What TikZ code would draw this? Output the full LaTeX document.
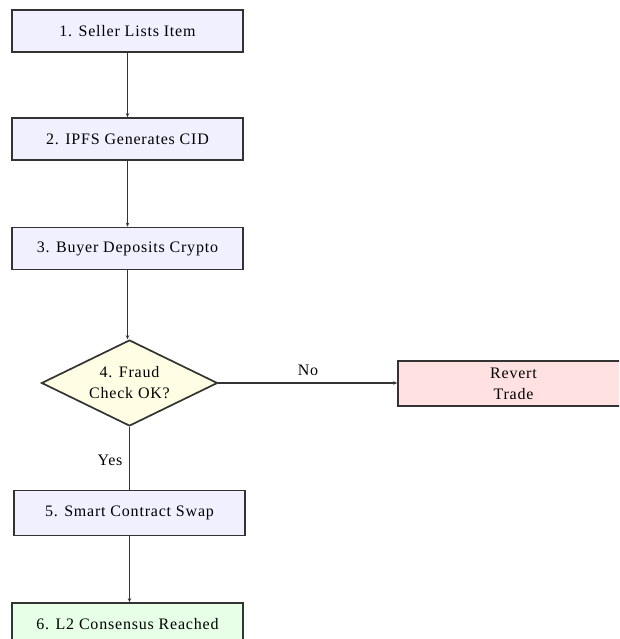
\documentclass[tikz,border=0pt]{standalone}
\usepackage{fontspec}
\setmainfont{Liberation Serif}[LetterSpace=5]
\usetikzlibrary{shapes.geometric,arrows.meta}
\definecolor{boxblue}{HTML}{F0F0FF}
\definecolor{boxyellow}{HTML}{FFFDE3}
\definecolor{boxred}{HTML}{FFE1E1}
\definecolor{boxgreen}{HTML}{E6FFE6}
\definecolor{linegray}{HTML}{333333}
\begin{document}
\begin{tikzpicture}[x=1pt,y=-1pt,
	stepbox/.style={rectangle,draw=linegray,line width=1.7pt,minimum width=231pt,minimum height=42pt,inner sep=0pt,align=center,font=\fontsize{16}{21}\selectfont},
	decision/.style={diamond,draw=linegray,line width=1.7pt,fill=boxyellow,minimum width=176pt,minimum height=86pt,aspect=2,inner sep=0pt,align=center,font=\fontsize{16}{21}\selectfont},
	flow/.style={draw=linegray,line width=1.7pt,-{Stealth[length=4pt,width=3.5pt]}},
	lbl/.style={font=\fontsize{16}{21}\selectfont}]
		\useasboundingbox (0,0) rectangle (619,639);
		\clip (0,0) rectangle (619,639);
		\fill[white] (0,0) rectangle (619,639);
		%Ablauf links
		\node at (127.5,31) [stepbox,fill=boxblue] (list) {1. Seller Lists Item};
		\node at (127.5,139) [stepbox,fill=boxblue] (cid) {2. IPFS Generates CID};
		\node at (127.5,248.5) [stepbox,fill=boxblue] (deposit) {3. Buyer Deposits Crypto};
		\node at (129.5,383) [decision] (fraud) {4. Fraud\\Check OK?};
		\node at (129.5,513) [stepbox,fill=boxblue,minimum height=45pt] (swap) {5. Smart Contract Swap};
		\node at (127.5,624) [stepbox,fill=boxgreen] (consensus) {6. L2 Consensus Reached};
		%Abbruch rechts
		\node at (513.5,383.5) [stepbox,fill=boxred,minimum height=45pt] (revert) {Revert\\Trade};
		%Verbindungen
		\draw[flow] (list) -- (cid);
		\draw[flow] (cid) -- (deposit);
		\draw[flow] (deposit.south) -- (deposit.south |- fraud.north);
		\draw[draw=linegray,line width=1.7pt] (fraud.south) -- (swap.north);
		\draw[flow] (swap.south) -- (swap.south |- consensus.north);
		\draw[flow] (fraud.east) -- (fraud.east -| revert.west);
		\node at (110,460) [lbl] (yes) {Yes};
		\node at (308,370) [lbl] (no) {No};
\end{tikzpicture}
\end{document}
